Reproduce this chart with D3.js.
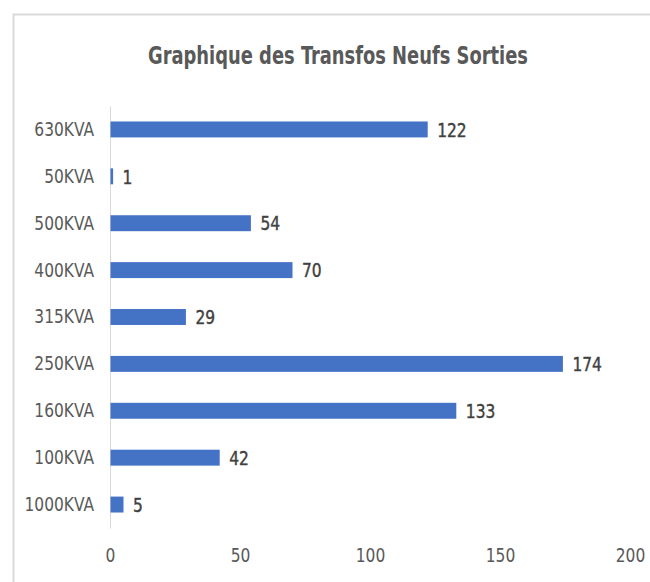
<!DOCTYPE html>
<html>
<head>
<meta charset="utf-8">
<script src="https://cdn.jsdelivr.net/npm/d3@7"></script>
<style>
  body { margin: 0; background: #fff; }
  text { font-family: "DejaVu Sans Condensed", "Liberation Sans Narrow", sans-serif; }
</style>
</head>
<body>
<div id="chart"></div>
<script>
const categories = ["630KVA", "50KVA", "500KVA", "400KVA", "315KVA", "250KVA", "160KVA", "100KVA", "1000KVA"],
values = [122, 1, 54, 70, 29, 174, 133, 42, 5],
xTicks = [0, 50, 100, 150, 200],
title = "Graphique des Transfos Neufs Sorties";

const width = 650,
height = 582,
squeeze = 0.86,
margin = { top: 106, right: 20, bottom: 54, left: 110 };

const svg = d3.select('#chart').append('svg')
    .attr('width', width)
    .attr('height', height);

// chart frame (only top and left edges are in view)
svg.append('path')
    .attr('d', 'M13.5,' + height + 'V14.5H' + width)
    .attr('fill', 'none')
    .attr('stroke', '#d9d9d9')
    .attr('stroke-width', 2);

svg.append('text')
    .attr('x', 338)
    .attr('y', 64)
    .attr('text-anchor', 'middle')
    .attr('font-size', 25)
    .attr('font-weight', 'bold')
    .attr('fill', '#595959')
    .attr('textLength', 380)
    .attr('lengthAdjust', 'spacingAndGlyphs')
    .text(title);

const x = d3.scaleLinear()
    .domain([0, 200])
    .range([margin.left, 630]);

const y = d3.scaleBand()
    .domain(categories)
    .range([margin.top, height - margin.bottom])
    .paddingInner(0.66)
    .paddingOuter(0.33);

// narrow the glyphs the way the original font looks
const narrow = sel => sel
    .attr('font-size', 20)
    .attr('fill', '#595959')
    .style('font-family', '"DejaVu Sans Condensed", "Liberation Sans Narrow", sans-serif')
    .attr('transform', 'scale(' + squeeze + ',1)');

// x axis labels, no line
const xAxis = svg.append('g')
    .attr('transform', 'translate(0,' + (height - margin.bottom) + ')')
    .call(d3.axisBottom(x).tickValues(xTicks).tickSize(0).tickPadding(20));
xAxis.select('.domain').remove();
xAxis.selectAll('text').call(narrow);

// y axis labels
const yAxis = svg.append('g')
    .attr('transform', 'translate(' + margin.left + ',0)')
    .call(d3.axisLeft(y).tickSize(0).tickPadding(16));
yAxis.select('.domain')
    .attr('stroke', '#d9d9d9')
    .attr('stroke-width', 1);
yAxis.selectAll('text').call(narrow)
    .attr('x', -16 / squeeze);

const rows = categories.map((c, i) => ({ name: c, value: values[i] }));

svg.append('g').selectAll('rect')
    .data(rows)
    .enter()
    .append('rect')
    .attr('x', x(0) + 0.5)
    .attr('y', d => y(d.name))
    .attr('width', d => x(d.value) - x(0))
    .attr('height', y.bandwidth())
    .attr('fill', '#4472c4');

svg.append('g').selectAll('text')
    .data(rows)
    .enter()
    .append('text')
    .attr('transform', d => 'translate(' + (x(d.value) + 10) + ',' + (y(d.name) + y.bandwidth() / 2) + ') scale(' + squeeze + ',1)')
    .attr('dy', '0.36em')
    .attr('font-size', 20)
    .attr('fill', '#404040')
    .attr('stroke', '#404040')
    .attr('stroke-width', 0.4)
    .text(d => d.value);
</script>
</body>
</html>
